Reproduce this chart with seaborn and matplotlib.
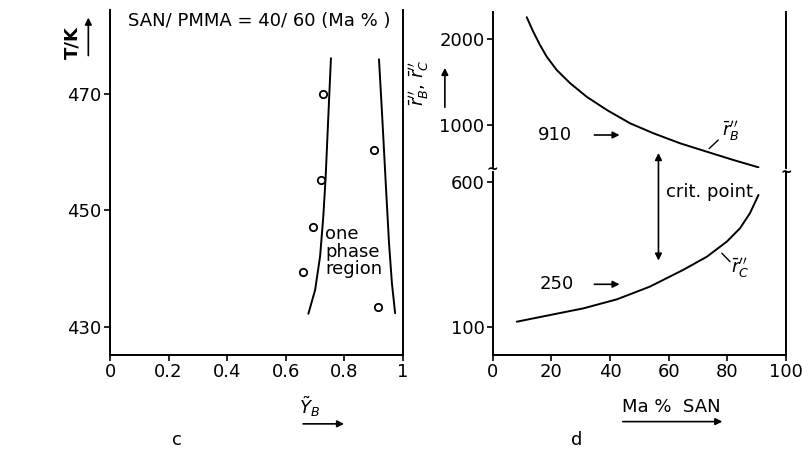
import numpy as np
import matplotlib
matplotlib.use("Agg")
import matplotlib.pyplot as plt
import seaborn as sns

# panel c: cloud points and binodal curves
yb_pts = [0.726, 0.901, 0.719, 0.694, 0.660, 0.916]
t_pts = [470.1, 460.4, 455.2, 447.1, 439.4, 433.3]
left_yb = [0.677, 0.700, 0.717, 0.728, 0.736, 0.745, 0.754]
left_t = [432.2, 436.3, 442.1, 449.0, 455.8, 466.1, 476.2]
right_yb = [0.973, 0.962, 0.952, 0.941, 0.929, 0.918]
right_t = [432.3, 437.5, 444.5, 454.7, 466.1, 476.0]

# panel d: critical chain lengths vs SAN content
san_b = [11.6, 13.8, 16.1, 18.4, 21.8, 26.4, 32.0, 38.9, 46.8, 54.8, 63.9, 73.0, 82.0, 90.6]
rb = [2257, 2089, 1934, 1797, 1642, 1487, 1330, 1175, 1020, 903, 786, 688, 592, 506]
san_c = [8.2, 19.5, 30.9, 42.3, 53.6, 65.0, 73.0, 79.8, 84.3, 87.7, 90.6]
rc = [117, 140, 163, 194, 238, 296, 341, 393, 439, 491, 554]

sns.set_style("ticks")
plt.rcParams['font.family'] = ['DejaVu Sans']
plt.rcParams['mathtext.fontset'] = 'dejavusans'
plt.rcParams['text.color'] = 'black'
plt.rcParams['axes.labelcolor'] = 'black'
plt.rcParams['lines.solid_joinstyle'] = 'round'
fs = 13
lw = 1.4

fig = plt.figure(figsize=(8.03, 4.49), dpi=100)
ax_c = fig.add_axes([0.137, 0.2094, 0.3649, 0.7684])
ax_lo = fig.add_axes([0.6136, 0.2094, 0.3653, 0.4076])
ax_up = fig.add_axes([0.6136, 0.6258, 0.3653, 0.3475])

for ax in (ax_c, ax_lo, ax_up):
    ax.patch.set_visible(False)
    for s in ax.spines.values():
        s.set_linewidth(lw)
        s.set_color('black')
    ax.spines['top'].set_visible(False)
    ax.tick_params(direction='out', length=4, width=1.2, labelsize=fs, pad=2,
                   right=False, top=False, colors='black')

# ---- panel c
sns.lineplot(x=left_yb, y=left_t, ax=ax_c, color='black', lw=lw, sort=False, estimator=None)
sns.lineplot(x=right_yb, y=right_t, ax=ax_c, color='black', lw=lw, sort=False, estimator=None)
sns.scatterplot(x=yb_pts, y=t_pts, ax=ax_c, marker='o', s=28, facecolor='white',
                edgecolor='black', linewidth=1.3, zorder=3)
ax_c.set_xlim(0, 1)
ax_c.set_ylim(425.1, 484.5)
ax_c.set_xticks([0, 0.2, 0.4, 0.6, 0.8, 1])
ax_c.set_xticklabels(['0', '0.2', '0.4', '0.6', '0.8', '1'])
ax_c.set_yticks([430, 450, 470])
ax_c.set_xlabel('')
ax_c.set_ylabel('')
ax_c.text(0.508, 482.6, 'SAN/ PMMA = 40/ 60 (Ma % )', ha='center', va='center', fontsize=fs)
ax_c.text(0.734, 442.9, 'one\nphase\nregion', ha='left', va='center', fontsize=fs,
          linespacing=0.95)

# ---- panel d
sns.lineplot(x=san_b, y=rb, ax=ax_up, color='black', lw=lw, sort=False, estimator=None)
sns.lineplot(x=san_c, y=rc, ax=ax_lo, color='black', lw=lw, sort=False, estimator=None)
ax_up.set_xlim(0, 100)
ax_lo.set_xlim(0, 100)
ax_up.set_ylim(498, 2318)
ax_lo.set_ylim(2.4, 633)
ax_up.set_yticks([1000, 2000])
ax_lo.set_yticks([100, 600])
ax_lo.set_xticks([0, 20, 40, 60, 80, 100])
ax_up.set_xticks([])
ax_up.spines['bottom'].set_visible(False)
for ax in (ax_lo, ax_up):
    ax.set_xlabel('')
    ax.set_ylabel('')

arrow = dict(arrowstyle='-|>', color='black', lw=1.2, mutation_scale=10)
ax_up.text(21.2, 883, '910', ha='center', va='center', fontsize=fs)
ax_up.annotate('', xy=(44.2, 883), xytext=(33.7, 883), arrowprops=arrow)
ax_lo.text(21.8, 246, '250', ha='center', va='center', fontsize=fs)
ax_lo.annotate('', xy=(44.2, 246), xytext=(33.7, 246), arrowprops=arrow)
ax_up.annotate('', xy=(56.5, 318), xycoords=ax_lo.transData, xytext=(56.5, 708),
               arrowprops=dict(arrowstyle='<|-|>', color='black', lw=1.2, mutation_scale=10),
               annotation_clip=False)
ax_lo.text(59.1, 565, 'crit. point', ha='left', va='center', fontsize=fs)
ax_up.text(78.3, 922, r"$\bar{r}_B^{\prime\prime}$", ha='left', va='center', fontsize=fs)
ax_up.plot([73.8, 76.9], [725, 825], color='black', lw=1.0)
ax_lo.text(81.2, 300, r"$\bar{r}_C^{\prime\prime}$", ha='left', va='center', fontsize=fs)
ax_lo.plot([78.1, 80.9], [353, 324], color='black', lw=1.0)

# axis break marks
fig.text(0.6136, 0.6215, '~', ha='center', va='center', fontsize=10, fontweight='bold')
fig.text(0.9789, 0.6150, '~', ha='center', va='center', fontsize=10, fontweight='bold')


def fig_arrow(p0, p1):
    ax_c.annotate('', xy=p1, xytext=p0, xycoords='figure fraction',
                  textcoords='figure fraction', arrowprops=arrow, annotation_clip=False)


# axis labels with arrows
fig.text(0.090, 0.905, 'T/K', rotation=90, ha='center', va='center', fontsize=fs, fontweight='bold')
fig_arrow((0.110, 0.870), (0.110, 0.967))
fig.text(0.386, 0.093, r"$\tilde{Y}_B$", ha='center', va='center', fontsize=fs)
fig_arrow((0.374, 0.056), (0.432, 0.056))
fig.text(0.522, 0.815, r"$\bar{r}_B^{\prime\prime}$, $\bar{r}_C^{\prime\prime}$", rotation=90,
         ha='center', va='center', fontsize=fs)
fig_arrow((0.554, 0.755), (0.554, 0.855))
fig.text(0.836, 0.094, 'Ma %  SAN', ha='center', va='center', fontsize=fs)
fig_arrow((0.772, 0.061), (0.903, 0.061))
fig.text(0.220, 0.020, 'c', ha='center', va='center', fontsize=fs)
fig.text(0.718, 0.020, 'd', ha='center', va='center', fontsize=fs)

plt.savefig('out.png', dpi=100)
